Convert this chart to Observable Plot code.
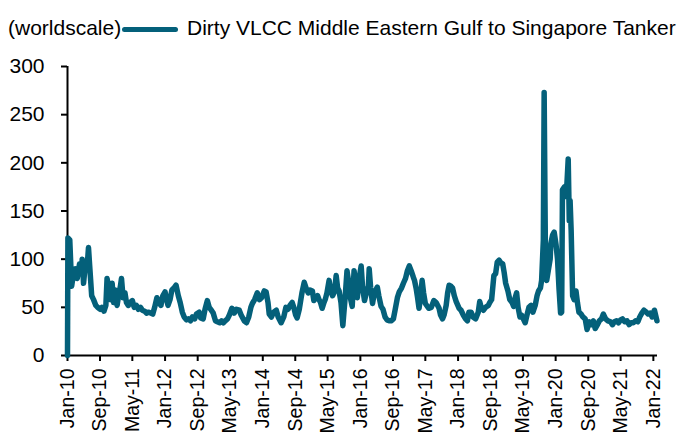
<!DOCTYPE html>
<html>
<head>
<meta charset="utf-8">
<script src="https://cdn.jsdelivr.net/npm/d3@7"></script>
<script src="https://cdn.jsdelivr.net/npm/@observablehq/plot@0.6"></script>
<style>
  body { margin: 0; background: #fff; font-family: "Liberation Sans", Arial, sans-serif; }
  #header { position: relative; width: 688px; height: 40px; }
  #unit { position: absolute; left: 8px; top: 17px; font-size: 21px; line-height: 21px; color: #000; white-space: nowrap; }
  #swatch { position: absolute; left: 122px; top: 27px; width: 56px; height: 5px; border-radius: 3px; }
  #series { position: absolute; left: 187px; top: 17px; font-size: 21px; line-height: 21px; color: #000; white-space: nowrap; }
</style>
</head>
<body>
<div id="header"><span id="unit"></span><div id="swatch"></div><span id="series"></span></div>
<div id="chart"></div>
<script>
const unitLabel = "(worldscale)";
const seriesName = "Dirty VLCC Middle Eastern Gulf to Singapore Tanker";
const lineColor = "#04607a";

const dates = [
"2010-01-01","2010-01-04","2010-01-18","2010-02-01","2010-02-15","2010-03-01","2010-03-15","2010-04-01","2010-04-15","2010-04-21",
"2010-05-01","2010-05-15","2010-06-01","2010-06-07","2010-06-15","2010-07-01","2010-07-15","2010-08-01","2010-08-15","2010-09-01",
"2010-09-15","2010-10-01","2010-10-15","2010-10-24","2010-11-07","2010-11-18","2010-12-01","2010-12-12","2010-12-24",
"2011-01-07","2011-01-18","2011-02-01","2011-02-09","2011-02-21","2011-03-07","2011-03-18","2011-04-01","2011-04-15","2011-05-01",
"2011-05-15","2011-06-01","2011-06-15","2011-07-01","2011-07-15","2011-08-01","2011-08-15","2011-09-01","2011-09-15","2011-10-01",
"2011-10-15","2011-11-01","2011-11-15","2011-12-01","2011-12-15",
"2012-01-01","2012-01-09","2012-01-23","2012-02-07","2012-02-21","2012-03-07","2012-03-23","2012-04-09","2012-04-23","2012-05-09",
"2012-05-23","2012-06-09","2012-06-23","2012-07-09","2012-07-23","2012-08-09","2012-08-23","2012-09-12","2012-09-23","2012-10-12",
"2012-10-26","2012-11-12","2012-11-26","2012-12-12","2012-12-26",
"2013-01-12","2013-01-26","2013-02-12","2013-02-26","2013-03-12","2013-03-26","2013-04-12","2013-04-26","2013-05-15","2013-06-01",
"2013-06-18","2013-07-09","2013-07-23","2013-08-15","2013-09-01","2013-09-18","2013-10-04","2013-10-15","2013-11-01","2013-11-21",
"2013-12-07","2013-12-23",
"2014-01-12","2014-01-26","2014-02-09","2014-02-18","2014-03-07","2014-03-23","2014-04-12","2014-04-26","2014-05-18","2014-06-07",
"2014-06-23","2014-07-09","2014-07-23","2014-08-09","2014-08-21","2014-09-04","2014-09-15","2014-10-01","2014-10-21","2014-11-07",
"2014-11-21","2014-12-07","2014-12-21",
"2015-01-07","2015-01-18","2015-02-04","2015-02-15","2015-02-26","2015-03-09","2015-03-21","2015-04-04","2015-04-15","2015-04-26",
"2015-05-12","2015-05-23","2015-06-07","2015-06-21","2015-07-04","2015-07-15","2015-07-26","2015-08-09","2015-08-23","2015-09-09",
"2015-09-23","2015-10-07","2015-10-18","2015-11-01","2015-11-15","2015-11-26","2015-12-09","2015-12-23",
"2016-01-07","2016-01-18","2016-02-01","2016-02-15","2016-03-01","2016-03-07","2016-03-18","2016-04-01","2016-04-15","2016-05-07",
"2016-05-18","2016-06-04","2016-06-18","2016-07-04","2016-07-18","2016-08-04","2016-08-18","2016-09-04","2016-09-18","2016-10-04",
"2016-10-18","2016-11-04","2016-11-18","2016-12-04","2016-12-18",
"2017-01-01","2017-01-15","2017-02-01","2017-02-09","2017-02-21","2017-03-04","2017-03-15","2017-03-26","2017-04-07","2017-04-18",
"2017-05-01","2017-05-26","2017-06-15","2017-07-04","2017-07-21","2017-08-12","2017-08-23","2017-09-07","2017-09-18","2017-10-04",
"2017-10-15","2017-10-26","2017-11-09","2017-11-21","2017-12-04","2017-12-18",
"2018-01-09","2018-01-23","2018-02-09","2018-02-26","2018-03-12","2018-03-23","2018-04-09","2018-04-23","2018-05-12","2018-06-01",
"2018-06-12","2018-06-23","2018-07-09","2018-07-26","2018-08-15","2018-08-26","2018-09-09","2018-09-26","2018-10-09","2018-10-21",
"2018-11-04","2018-11-18","2018-12-01","2018-12-12","2018-12-23",
"2019-01-09","2019-01-23","2019-02-09","2019-02-21","2019-03-04","2019-03-15","2019-03-26","2019-04-09","2019-04-21","2019-05-04",
"2019-05-18","2019-06-04","2019-06-15","2019-07-01","2019-07-15","2019-08-01","2019-08-15","2019-08-26","2019-09-09","2019-09-18",
"2019-10-01","2019-10-07","2019-10-18","2019-10-26","2019-11-09","2019-11-21","2019-11-26","2019-12-09","2019-12-21",
"2020-01-04","2020-01-15","2020-01-26","2020-02-07","2020-02-15","2020-02-21","2020-03-07","2020-03-18","2020-03-26","2020-04-04",
"2020-04-12","2020-04-18","2020-04-26","2020-05-07","2020-05-18","2020-06-01","2020-06-12","2020-06-23","2020-07-09","2020-07-23",
"2020-08-09","2020-08-23","2020-09-09","2020-09-23","2020-10-09","2020-10-23","2020-11-09","2020-11-23","2020-12-09","2020-12-23",
"2021-01-09","2021-01-26","2021-02-15","2021-03-01","2021-03-15","2021-04-01","2021-04-15","2021-05-01","2021-05-15","2021-06-01",
"2021-06-18","2021-07-04","2021-07-18","2021-08-04","2021-08-21","2021-09-07","2021-09-21","2021-10-07","2021-10-23","2021-11-09",
"2021-11-23","2021-12-09","2021-12-23",
"2022-01-09","2022-01-28"
];

const values = [
0,122,120,72,85,90,80,95,85,100,
75,95,100,112,95,62,58,52,50,48,
50,46,52,80,70,58,75,55,68,
52,62,72,80,60,65,55,52,55,57,
50,52,48,50,47,46,44,45,44,43,
50,60,55,52,62,
66,60,52,58,68,70,73,62,55,45,
40,37,38,36,40,38,43,45,39,38,
48,57,50,47,44,
36,35,34,36,34,36,38,42,49,44,
48,47,42,36,34,40,50,54,58,65,
58,60,
67,66,55,43,40,45,47,40,34,40,
50,48,52,55,50,42,39,48,65,76,
70,65,68,
67,57,60,62,58,55,49,55,59,65,
78,68,62,66,83,70,67,55,31,60,
88,75,60,51,88,75,60,80,
93,70,57,65,72,90,70,54,65,71,
62,51,48,40,37,36,36,38,48,60,
66,70,75,80,88,
93,88,81,78,70,60,49,60,78,65,
54,49,50,57,55,49,42,38,42,52,
65,73,72,70,62,56,
49,47,42,38,36,45,45,40,38,45,
56,50,47,50,52,55,58,83,85,97,
99,96,95,86,75,
67,58,55,51,60,65,50,40,42,38,
34,44,50,52,45,52,62,67,70,78,
120,273,80,78,90,100,116,125,128,
115,100,70,44,45,172,175,165,180,204,
140,161,130,62,58,67,55,45,43,40,
38,27,35,32,36,28,32,36,38,43,
38,36,35,32,35,36,34,37,38,35,
36,32,34,34,36,35,40,44,47,45,
43,44,40,
47,36
];

const tickLabels = ["Jan-10","Sep-10","May-11","Jan-12","Sep-12","May-13","Jan-14","Sep-14","May-15","Jan-16",
  "Sep-16","May-17","Jan-18","Sep-18","May-19","Jan-20","Sep-20","May-21","Jan-22"];
const yTicks = [0, 50, 100, 150, 200, 250, 300];

document.getElementById("unit").textContent = unitLabel;
document.getElementById("series").textContent = seriesName;
document.getElementById("swatch").style.background = lineColor;

const parse = d3.utcParse("%Y-%m-%d");
const data = dates.map((d, i) => ({date: parse(d), value: values[i]}));
const tickDates = tickLabels.map(d3.utcParse("%b-%y"));
const xStart = parse("2010-01-01");
const xEnd = parse("2022-02-01");

const chart = Plot.plot({
  width: 688,
  height: 397,
  marginTop: 26,
  marginBottom: 82,
  marginLeft: 67,
  marginRight: 31,
  style: {fontFamily: "'Liberation Sans', Arial, sans-serif", fontSize: "21px", color: "#000", background: "#fff", overflow: "visible"},
  x: {type: "utc", domain: [xStart, xEnd]},
  y: {domain: [0, 300]},
  marks: [
    Plot.axisY({ticks: yTicks, tickSize: 6, tickPadding: 17, label: null, strokeWidth: 2, fill: "#000"}),
    Plot.axisX({ticks: tickDates, tickFormat: d3.utcFormat("%b-%y"), tickRotate: -90, tickSize: 6, tickPadding: 7, label: null, strokeWidth: 2, fill: "#000", fontSize: 19.5}),
    Plot.ruleY([0], {strokeWidth: 2, stroke: "#000"}),
    Plot.ruleX([xStart], {y1: 0, y2: 300, strokeWidth: 2, stroke: "#000"}),
    Plot.line(data, {x: "date", y: "value", stroke: lineColor, strokeWidth: 5.5, strokeLinejoin: "round", strokeLinecap: "round"})
  ]
});
document.getElementById("chart").appendChild(chart);
</script>
</body>
</html>
